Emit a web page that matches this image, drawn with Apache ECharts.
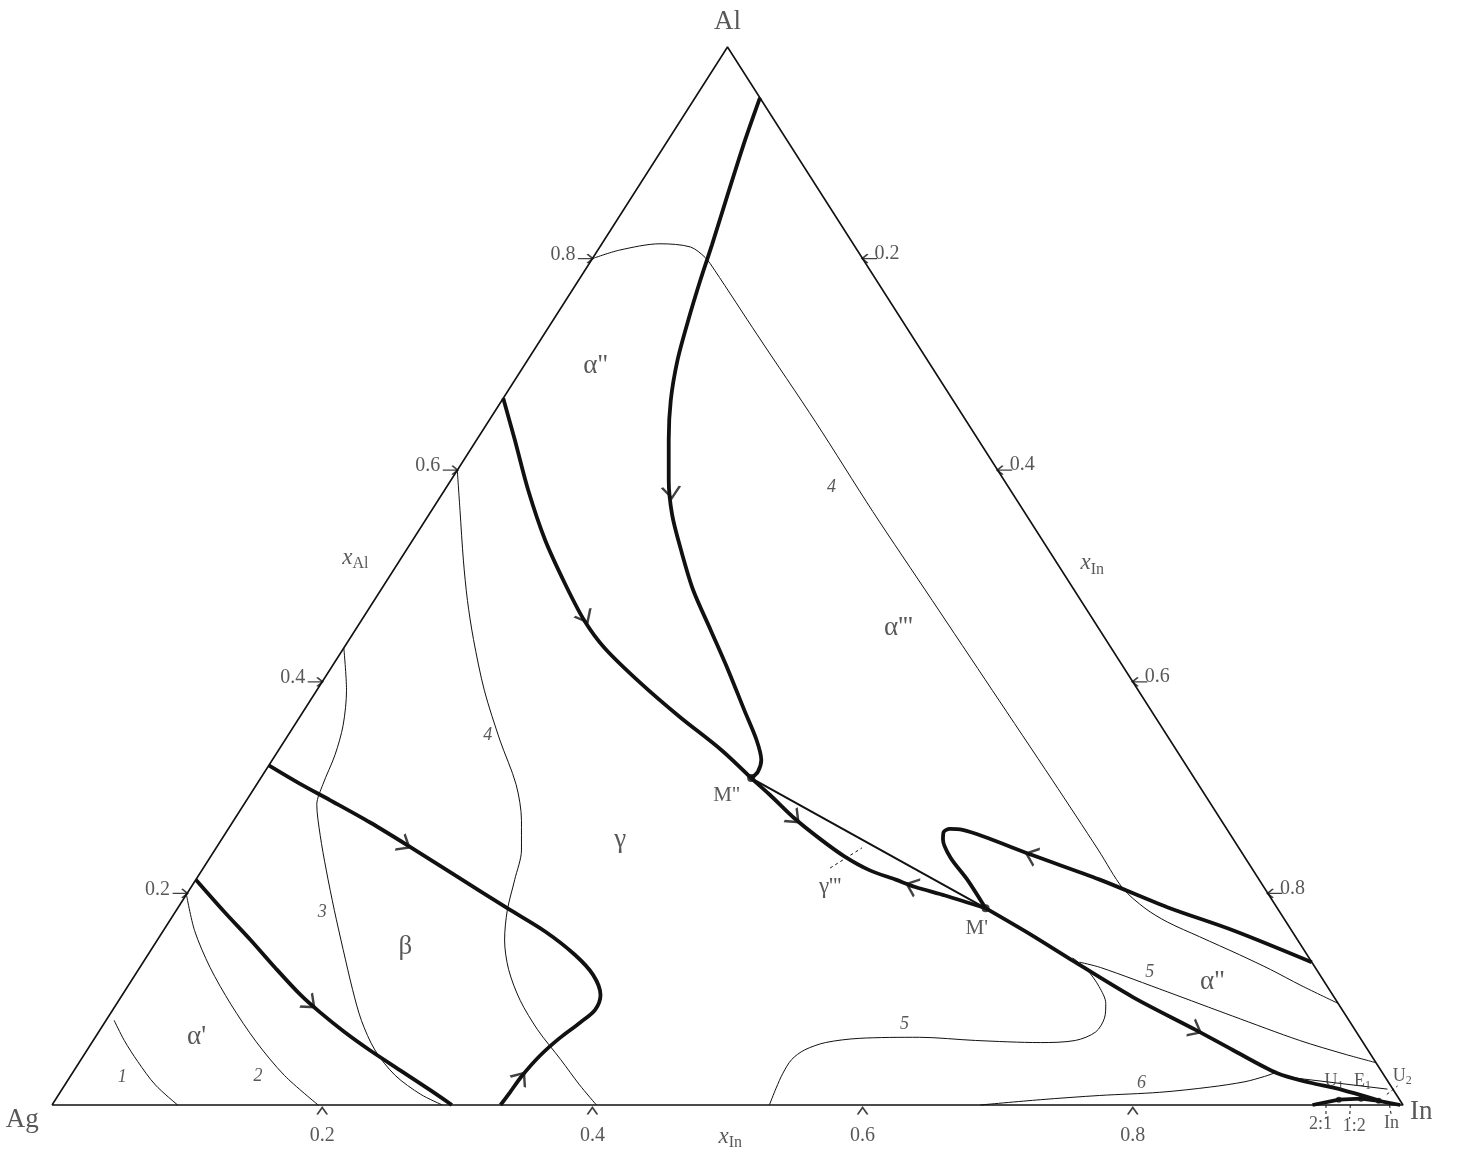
<!DOCTYPE html>
<html><head><meta charset="utf-8">
<script src="https://cdn.jsdelivr.net/npm/echarts@6/dist/echarts.min.js"></script>
<style>html,body{margin:0;padding:0;background:#fff}#c{width:1460px;height:1175px}</style>
</head><body><div id="c"></div>
<script>
// ---- data: compositions as [x_In, x_Al] (x_Ag = 1 - x_In - x_Al) ----
const vertices = [[0,0],[1,0],[0,1],[0,0]];
const ticks = [0.2,0.4,0.6,0.8];
const tickLabels = ['0.2','0.4','0.6','0.8'];

// heavy (univariant) lines
const curveA = [[0.048,0.952],[0.057,0.912],[0.070,0.860],[0.082,0.813],[0.090,0.780],[0.100,0.742],[0.111,0.704],[0.125,0.666],[0.142,0.629],[0.161,0.591],[0.180,0.558],[0.203,0.525],[0.231,0.487],[0.263,0.449],[0.295,0.411],[0.326,0.373],[0.349,0.345],[0.362,0.326],[0.365,0.315],[0.363,0.309]];
const curveB = [[0.000,0.668],[0.028,0.629],[0.062,0.581],[0.098,0.534],[0.134,0.492],[0.165,0.458],[0.193,0.432],[0.236,0.399],[0.281,0.367],[0.327,0.336],[0.363,0.309]];
const curveMM = [[0.363,0.309],[0.385,0.293],[0.414,0.271],[0.442,0.252],[0.469,0.235],[0.494,0.222],[0.518,0.213],[0.536,0.206],[0.562,0.198],[0.598,0.186]];
const curveC = [[0.598,0.186],[0.571,0.213],[0.548,0.234],[0.534,0.251],[0.531,0.258],[0.534,0.261],[0.544,0.260],[0.562,0.254],[0.608,0.236],[0.669,0.213],[0.732,0.187],[0.792,0.165],[0.865,0.135]];
const curveD = [[0.598,0.186],[0.644,0.161],[0.681,0.140],[0.749,0.102],[0.811,0.071],[0.848,0.052],[0.892,0.030],[0.921,0.021],[0.942,0.016],[0.962,0.010],[0.981,0.004]];
const curveE = [[0.000,0.213],[0.037,0.182],[0.069,0.156],[0.100,0.130],[0.132,0.104],[0.154,0.088],[0.182,0.069],[0.209,0.052],[0.241,0.033],[0.273,0.014],[0.296,0.000]];
const curveF = [[0.000,0.321],[0.031,0.304],[0.062,0.288],[0.102,0.267],[0.143,0.244],[0.190,0.217],[0.244,0.186],[0.283,0.164],[0.316,0.142],[0.339,0.123],[0.354,0.104],[0.357,0.090],[0.352,0.078],[0.344,0.063],[0.338,0.047],[0.334,0.027],[0.333,0.012],[0.332,0.000]];
const cornerLine = [[0.933,0.000],[0.950,0.005],[0.966,0.006],[0.980,0.004],[0.998,0.000]];
const tieMM = [[0.363,0.309],[0.598,0.186]];

// thin isotherms
const iso1 = [[0.006,0.080],[0.023,0.061],[0.043,0.041],[0.067,0.019],[0.093,0.000]];
const iso2 = [[0.000,0.199],[0.023,0.165],[0.052,0.130],[0.085,0.095],[0.121,0.060],[0.158,0.028],[0.197,0.000]];
const iso3 = [[0.000,0.432],[0.022,0.392],[0.036,0.359],[0.044,0.331],[0.049,0.303],[0.054,0.284],[0.071,0.255],[0.092,0.222],[0.117,0.184],[0.142,0.147],[0.168,0.109],[0.189,0.080],[0.213,0.052],[0.240,0.028],[0.268,0.010],[0.289,0.000]];
const iso4a = [[0.000,0.600],[0.021,0.562],[0.047,0.515],[0.069,0.477],[0.092,0.440],[0.124,0.392],[0.159,0.345],[0.192,0.303],[0.213,0.269],[0.227,0.241],[0.236,0.213],[0.245,0.184],[0.257,0.156],[0.274,0.128],[0.297,0.099],[0.324,0.071],[0.355,0.043],[0.381,0.019],[0.403,0.000]];
const iso4b = [[0.000,0.800],[0.016,0.808],[0.043,0.814],[0.067,0.811],[0.083,0.801],[0.096,0.789],[0.158,0.728],[0.243,0.645],[0.327,0.561],[0.413,0.477],[0.500,0.392],[0.587,0.307],[0.654,0.241],[0.690,0.205],[0.716,0.186],[0.739,0.173],[0.770,0.159],[0.808,0.142],[0.838,0.128],[0.868,0.113],[0.904,0.096]];
const iso5a = [[0.531,0.000],[0.528,0.016],[0.526,0.030],[0.526,0.043],[0.531,0.052],[0.543,0.059],[0.566,0.063],[0.610,0.064],[0.653,0.061],[0.702,0.059],[0.727,0.061],[0.738,0.069],[0.738,0.082],[0.732,0.096],[0.719,0.112],[0.702,0.128],[0.686,0.139]];
const iso5b = [[0.693,0.135],[0.711,0.130],[0.772,0.107],[0.832,0.084],[0.893,0.061],[0.933,0.048],[0.960,0.040]];
const iso6 = [[0.687,0.000],[0.729,0.005],[0.771,0.009],[0.814,0.012],[0.849,0.017],[0.872,0.022],[0.884,0.027],[0.891,0.031]];
const isoU = [[0.904,0.026],[0.981,0.015]];

// dashed short tie lines
const dashGamma = [[0.464,0.224],[0.478,0.243]];
const dash21 = [[0.943,0.000],[0.9495,-0.013]];
const dash12 = [[0.961,0.000],[0.967,-0.013]];
const dashIn = [[0.990,0.000],[0.997,-0.011]];
const dashU2 = [[0.983,0.010],[0.987,0.018]];

// invariant points
const bigDots = [[0.363,0.309],[0.598,0.186]];
const smallDots = [[0.950,0.005],[0.966,0.006],[0.980,0.004]];

// arrows along heavy lines
const arrows = [
  {c:'A', at:[0.169,0.579]}, {c:'B', at:[0.164,0.461]}, {c:'F', at:[0.138,0.246]},
  {c:'E', at:[0.143,0.096]}, {c:'F', at:[0.334,0.026], rev:true}, {c:'MM', at:[0.414,0.271]},
  {c:'MM', at:[0.533,0.207], rev:true}, {c:'C', at:[0.607,0.236], rev:true}, {c:'D', at:[0.811,0.071]}
];

// text labels [text, x_In, x_Al]
const vertexLabels = [['Al',-0.012,1.024],['Ag',-0.015,-0.014],['In',1.017,-0.007]];
const regionLabels = [['α"',0.053,0.699],["α'''",0.401,0.451],['γ',0.295,0.251],['β',0.187,0.149],["α'",0.075,0.064],['α"',0.801,0.116]];
const gammaLabel = [["γ'''",0.473,0.206]];
const pointLabels = [['M"',0.353,0.293],["M'",0.601,0.167]];
const curveNumbers = [['1',0.039,0.026],['2',0.139,0.027],['3',0.109,0.182],['4',0.148,0.349],['4',0.285,0.584],['5',0.593,0.076],['5',0.750,0.125],['6',0.796,0.021]];
const cornerLabels = [['{m|U}{s|1}',0.938,0.022],['{m|E}{s|1}',0.959,0.022],['{m|U}{s|2}',0.986,0.027],['{m|2:1}',0.948,-0.018],['{m|1:2}',0.974,-0.020],['{m|In}',1.000,-0.017]];
const axisTitles = [['{i|x}{s|Al}',-0.034,0.517],['{i|x}{s|In}',0.514,0.512],['{i|x}{s|In}',0.517,-0.030]];

// ---- rendering ----
const FONT = "'Liberation Serif','Times New Roman',serif";
const INK = '#111';
const TXT = '#2e2e2e';
function toXY(p){ return [p[0] + p[1]/2, p[1]]; }
function line(data, width, extra){
  return Object.assign({type:'line', data:data.map(toXY), symbol:'none', showSymbol:false, smooth:0.3,
    clip:false, silent:true, z:3, lineStyle:{color:INK, width:width}}, extra||{});
}
function dashed(data){ return line(data, 1, {smooth:false, lineStyle:{color:INK, width:1, type:[3,3]}}); }
function labels(items, labelStyle){
  return {type:'scatter', clip:false, silent:true, symbolSize:1, z:6, itemStyle:{color:'rgba(0,0,0,0)'},
    data: items.map(it=>({name:it[0], value:toXY([it[1],it[2]])})),
    label: Object.assign({show:true, position:'inside', formatter:'{b}', fontFamily:FONT, color:TXT}, labelStyle)};
}
const sub = (size, sz2, pad)=>({m:{fontSize:size, fontFamily:FONT, color:TXT}, i:{fontSize:size, fontStyle:'italic', fontFamily:FONT, color:TXT}, s:{fontSize:sz2, fontFamily:FONT, color:TXT, padding:[pad,0,0,0]}});

const curves = {A:curveA, B:curveB, MM:curveMM, C:curveC, D:curveD, E:curveE, F:curveF};
const HEAVY = 3.8;

const series = [
  line(vertices, 1.6, {smooth:false}),
  line(iso1,1), line(iso2,1), line(iso3,1), line(iso4a,1), line(iso4b,1),
  line(iso5a,1), line(iso5b,1), line(iso6,1), line(isoU,1, {smooth:false}),
  dashed(dashGamma), dashed(dash21), dashed(dash12), dashed(dashIn), dashed(dashU2),
  line(tieMM, 2, {smooth:false}),
  line(curveA,HEAVY), line(curveB,HEAVY), line(curveMM,HEAVY), line(curveC,HEAVY), line(curveD,HEAVY),
  line(curveE,HEAVY), line(curveF,HEAVY), line(cornerLine,HEAVY, {smooth:false}),
  {type:'scatter', clip:false, silent:true, z:7, symbolSize:8, itemStyle:{color:INK}, data:bigDots.map(toXY)},
  {type:'scatter', clip:false, silent:true, z:7, symbolSize:6, itemStyle:{color:INK}, data:smallDots.map(toXY)},
  // axis tick arrows
  {type:'scatter', clip:false, silent:true, z:7, symbol:'path://M0,5L16,5M10,1L16,5L10,9', symbolSize:[15,9], symbolOffset:[-7,0],
    itemStyle:{color:'rgba(0,0,0,0)', borderColor:INK, borderWidth:1.6}, data:ticks.map(t=>toXY([0,t]))},
  {type:'scatter', clip:false, silent:true, z:7, symbol:'path://M16,5L0,5M6,1L0,5L6,9', symbolSize:[15,9], symbolOffset:[7,0],
    itemStyle:{color:'rgba(0,0,0,0)', borderColor:INK, borderWidth:1.6}, data:ticks.map(t=>toXY([t,1-t]))},
  {type:'scatter', clip:false, silent:true, z:7, symbol:'path://M0,7L5,0L10,7', symbolSize:[10,7], symbolOffset:[0,6],
    itemStyle:{color:'rgba(0,0,0,0)', borderColor:INK, borderWidth:1.6}, data:ticks.map(t=>toXY([t,0]))},
  // tick labels
  {type:'scatter', clip:false, silent:true, symbolSize:1, itemStyle:{color:'rgba(0,0,0,0)'},
    data:ticks.map((t,i)=>({name:tickLabels[i], value:toXY([0,t])})),
    label:{show:true, position:'inside', formatter:'{b}', align:'right', offset:[-17,-4], fontSize:20, fontFamily:FONT, color:TXT}},
  {type:'scatter', clip:false, silent:true, symbolSize:1, itemStyle:{color:'rgba(0,0,0,0)'},
    data:ticks.map((t,i)=>({name:tickLabels[i], value:toXY([t,1-t])})),
    label:{show:true, position:'inside', formatter:'{b}', align:'left', offset:[12,-5], fontSize:20, fontFamily:FONT, color:TXT}},
  {type:'scatter', clip:false, silent:true, symbolSize:1, itemStyle:{color:'rgba(0,0,0,0)'},
    data:ticks.map((t,i)=>({name:tickLabels[i], value:toXY([t,0])})),
    label:{show:true, position:'inside', formatter:'{b}', offset:[0,31], fontSize:20, fontFamily:FONT, color:TXT}},
  labels(vertexLabels, {fontSize:27}),
  labels(regionLabels, {fontSize:27}),
  labels(gammaLabel, {fontSize:23}),
  labels(pointLabels, {fontSize:21}),
  labels(curveNumbers, {fontSize:18, fontStyle:'italic'}),
  labels(cornerLabels, {rich:sub(18,12,9)}),
  labels(axisTitles, {rich:sub(23,16,12)}),
  {id:'arrows', type:'scatter', clip:false, silent:true, z:8, symbol:'path://M0,0L10,7L0,14', symbolSize:[11,18],
    itemStyle:{color:'rgba(0,0,0,0)', borderColor:INK, borderWidth:2.2}, data:[]}
];

const chart = echarts.init(document.getElementById('c'), null, {renderer:'canvas'});
chart.setOption({
  animation:false,
  backgroundColor:'#fff',
  grid:{left:52, right:57, top:47, bottom:70},
  xAxis:{type:'value', min:0, max:1, show:false},
  yAxis:{type:'value', min:0, max:1, show:false},
  series: series
});

// orient arrows along their curves using the axes' pixel mapping
const arrowData = arrows.map(a=>{
  const pts = curves[a.c].map(p=>chart.convertToPixel({gridIndex:0}, toXY(p)));
  const q = chart.convertToPixel({gridIndex:0}, toXY(a.at));
  let best = 0, bd = Infinity;
  for (let i=0;i<pts.length-1;i++){
    const ax=pts[i][0], ay=pts[i][1], bx=pts[i+1][0], by=pts[i+1][1];
    const vx=bx-ax, vy=by-ay, L=vx*vx+vy*vy||1;
    let t=((q[0]-ax)*vx+(q[1]-ay)*vy)/L; t=Math.max(0,Math.min(1,t));
    const dx=ax+t*vx-q[0], dy=ay+t*vy-q[1], d=dx*dx+dy*dy;
    if (d<bd){bd=d;best=i;}
  }
  let dx=pts[best+1][0]-pts[best][0], dy=pts[best+1][1]-pts[best][1];
  if (a.rev){dx=-dx;dy=-dy;}
  return {value:toXY(a.at), symbolRotate:Math.atan2(-dy,dx)*180/Math.PI};
});
chart.setOption({series:[{id:'arrows', data:arrowData}]});
</script>
</body></html>
